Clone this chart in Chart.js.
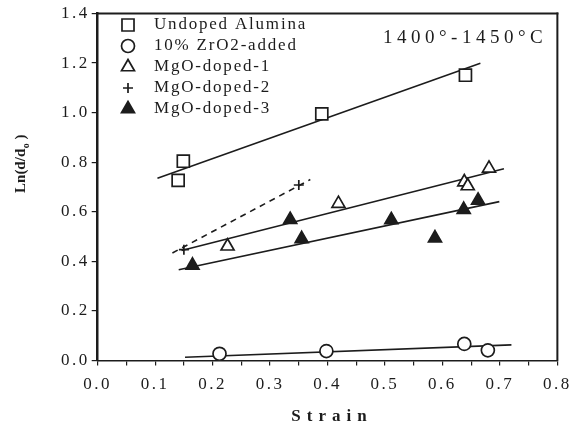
<!DOCTYPE html>
<html>
<head>
<meta charset="utf-8">
<script src="https://cdn.jsdelivr.net/npm/chart.js@4/dist/chart.umd.min.js"></script>
<style>
  html, body { margin: 0; padding: 0; background: #fff; }
</style>
</head>
<body>
<canvas id="strain-canvas" width="577" height="427"></canvas>
<script>
(function() {
var INK = '#1c1c1c';
var SERIF = '"Liberation Serif", "DejaVu Serif", serif';

var undopedStrain = [0.140, 0.149, 0.390, 0.640];
var undopedLn     = [0.727, 0.804, 0.995, 1.151];
var zrStrain      = [0.212, 0.398, 0.638, 0.679];
var zrLn          = [0.027, 0.038, 0.067, 0.041];
var mg1Strain     = [0.226, 0.419, 0.638, 0.644, 0.681];
var mg1Ln         = [0.461, 0.633, 0.720, 0.704, 0.775];
var mg2Strain     = [0.150, 0.350];
var mg2Ln         = [0.447, 0.708];
var mg3Strain     = [0.165, 0.335, 0.355, 0.511, 0.587, 0.637, 0.662];
var mg3Ln         = [0.384, 0.568, 0.491, 0.567, 0.494, 0.609, 0.646];

// fitted lines (end points)
var undopedFitStrain = [0.104, 0.666], undopedFitLn = [0.735, 1.199];
var zrFitStrain      = [0.152, 0.720], zrFitLn      = [0.013, 0.063];
var mg1FitStrain     = [0.146, 0.707], mg1FitLn     = [0.444, 0.774];
var mg2FitStrain     = [0.130, 0.370], mg2FitLn     = [0.434, 0.730];
var mg3FitStrain     = [0.141, 0.699], mg3FitLn     = [0.366, 0.641];

var seriesNames = ['Undoped Alumina', '10% ZrO2-added', 'MgO-doped-1', 'MgO-doped-2', 'MgO-doped-3'];
var xTickValues = [0, 0.05, 0.1, 0.15, 0.2, 0.25, 0.3, 0.35, 0.4, 0.45, 0.5, 0.55, 0.6, 0.65, 0.7, 0.75, 0.8];
var yTickValues = [0, 0.2, 0.4, 0.6, 0.8, 1.0, 1.2, 1.4];
var tempLabel = '1400\u00b0-1450\u00b0C';
var xTitle = 'Strain';

function pts(xs, ys) {
    return xs.map(function(x, i) { return {x: x, y: ys[i]}; });
}

function markers(i, xs, ys, style, r, fill) {
    return {
        label: seriesNames[i],
        data: pts(xs, ys),
        showLine: false,
        pointStyle: style,
        pointRadius: r,
        pointBackgroundColor: fill,
        pointBorderColor: INK,
        pointBorderWidth: 1.7
    };
}

function fit(xs, ys, dash) {
    return {
        label: '',
        data: pts(xs, ys),
        showLine: true,
        pointRadius: 0,
        borderColor: INK,
        borderWidth: 1.6,
        borderDash: dash || [],
        fill: false
    };
}

var datasets = [
    markers(0, undopedStrain, undopedLn, 'rect', 8.5, '#fff'),
    markers(1, zrStrain, zrLn, 'circle', 6.5, '#fff'),
    markers(2, mg1Strain, mg1Ln, 'triangle', 7.5, '#fff'),
    markers(3, mg2Strain, mg2Ln, 'cross', 5, INK),
    markers(4, mg3Strain, mg3Ln, 'triangle', 7.5, INK),
    fit(undopedFitStrain, undopedFitLn),
    fit(zrFitStrain, zrFitLn),
    fit(mg1FitStrain, mg1FitLn),
    fit(mg2FitStrain, mg2FitLn, [6, 5]),
    fit(mg3FitStrain, mg3FitLn)
];

// text with letter spacing
function spaced(ctx, text, x, y, spacing, align) {
    ctx.letterSpacing = spacing + 'px';
    var w = ctx.measureText(text).width - spacing;
    ctx.textAlign = 'left';
    if (align === 'center') x = x - w / 2;
    ctx.fillText(text, x, y);
    ctx.letterSpacing = '0px';
}

var paperDecor = {
    id: 'paperDecor',
    beforeDraw: function(chart) {
        var ctx = chart.ctx;
        ctx.save();
        ctx.fillStyle = '#fff';
        ctx.fillRect(0, 0, chart.width, chart.height);
        ctx.restore();
        ctx.letterSpacing = '2.5px';
    },
    afterDraw: function(chart) {
        var ctx = chart.ctx;
        var a = chart.chartArea;
        ctx.save();
        ctx.letterSpacing = '0px';
        ctx.setLineDash([]);

        // top and right frame
        ctx.fillStyle = INK;
        ctx.fillRect(a.left, a.top - 1, a.right - a.left + 1, 2);
        ctx.fillRect(a.right - 1, a.top - 1, 2, a.bottom - a.top + 1);

        // legend
        ctx.font = '17px ' + SERIF;
        ctx.textBaseline = 'middle';
        for (var i = 0; i < 5; i++) {
            var ds = chart.data.datasets[i];
            var y = 25 + i * 21;
            ctx.save();
            ctx.strokeStyle = INK;
            ctx.fillStyle = ds.pointBackgroundColor;
            ctx.lineWidth = 1.7;
            Chart.helpers.drawPoint(ctx, {
                pointStyle: ds.pointStyle,
                radius: ds.pointRadius,
                rotation: 0,
                borderWidth: 1.7
            }, 128, y);
            ctx.restore();
            ctx.fillStyle = INK;
            spaced(ctx, ds.label, 154, y, 1.8, 'left');
        }

        // temperature note
        ctx.font = '19px ' + SERIF;
        spaced(ctx, tempLabel, 383, 38, 4.5, 'left');

        // x title
        ctx.font = 'bold 17px ' + SERIF;
        spaced(ctx, xTitle, 329, 417, 6, 'center');

        // y title with subscript
        ctx.translate(20, 164);
        ctx.rotate(-Math.PI / 2);
        ctx.textBaseline = 'alphabetic';
        ctx.font = 'bold 15px ' + SERIF;
        var p1 = 'Ln(d/d';
        var w1 = ctx.measureText(p1).width;
        ctx.font = 'bold 10px ' + SERIF;
        var w2 = ctx.measureText('o').width;
        ctx.font = 'bold 15px ' + SERIF;
        var w3 = ctx.measureText(' )').width;
        var x0 = -(w1 + w2 + w3) / 2;
        ctx.fillText(p1, x0, 5);
        ctx.font = 'bold 10px ' + SERIF;
        ctx.fillText('o', x0 + w1 + 0.5, 9);
        ctx.font = 'bold 15px ' + SERIF;
        ctx.fillText(' )', x0 + w1 + w2 + 0.5, 5);
        ctx.restore();
    }
};

window.onload = function() {
    var ctx = document.getElementById('strain-canvas').getContext('2d');
    window.myScatter = new Chart(ctx, {
        type: 'scatter',
        data: { datasets: datasets },
        plugins: [paperDecor],
        options: {
            responsive: false,
            animation: false,
            devicePixelRatio: 1,
            layout: { padding: { top: 13.5, right: 15.3, left: 0, bottom: 0 } },
            plugins: {
                legend: { display: false },
                tooltip: { enabled: false }
            },
            scales: {
                x: {
                    type: 'linear',
                    min: 0,
                    max: 0.8,
                    afterBuildTicks: function(s) {
                        s.ticks = xTickValues.map(function(v) { return {value: v}; });
                    },
                    afterFit: function(s) { s.height = 66.5; },
                    border: { display: true, color: INK, width: 1.6 },
                    grid: { display: true, drawOnChartArea: false, drawTicks: true, tickLength: 5, color: INK, lineWidth: 1.2 },
                    ticks: {
                        autoSkip: false,
                        maxRotation: 0,
                        padding: 9,
                        color: INK,
                        font: { family: SERIF, size: 17 },
                        callback: function(v, i) { return i % 2 ? '' : v.toFixed(1); }
                    }
                },
                y: {
                    type: 'linear',
                    min: 0,
                    max: 1.4,
                    afterBuildTicks: function(s) {
                        s.ticks = yTickValues.map(function(v) { return {value: v}; });
                    },
                    afterFit: function(s) { s.width = 97.7; },
                    border: { display: true, color: INK, width: 2.5 },
                    grid: { display: true, drawOnChartArea: false, drawTicks: true, tickLength: 6, color: INK, lineWidth: 1.2 },
                    ticks: {
                        padding: 2,
                        color: INK,
                        font: { family: SERIF, size: 17 },
                        callback: function(v) { return v.toFixed(1); }
                    }
                }
            }
        }
    });
};
})();
</script>
</body>
</html>
